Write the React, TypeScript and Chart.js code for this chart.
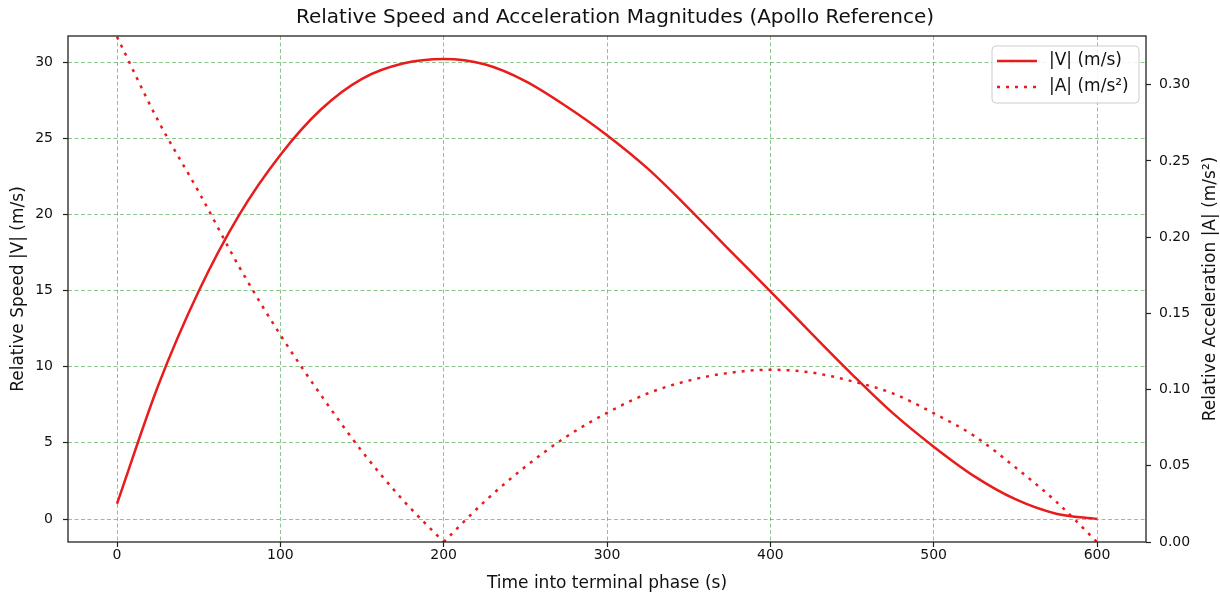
import React, { useEffect, useRef } from "react";
import { Chart, registerables } from "chart.js";

Chart.register(...registerables);

const FONT = "'DejaVu Sans', 'Liberation Sans', sans-serif";

const TITLE = "Relative Speed and Acceleration Magnitudes (Apollo Reference)";
const X_LABEL = "Time into terminal phase (s)";
const Y_LABEL = "Relative Speed |V| (m/s)";
const Y1_LABEL = "Relative Acceleration |A| (m/s²)";
const LEGEND_LABELS = ["|V| (m/s)", "|A| (m/s²)"];

// time samples (s)
const times = [0, 25, 50, 75, 100, 125, 150, 175, 200, 225, 250, 275, 300, 325, 350, 375, 400, 425, 450, 475, 500, 525, 550, 575, 600];
// |V| (m/s)
const speed = [1.0, 8.7, 14.95, 20.0, 23.9, 26.9, 28.9, 29.9, 30.2, 29.85, 28.75, 27.1, 25.2, 23.0, 20.4, 17.65, 14.95, 12.2, 9.5, 6.95, 4.75, 2.8, 1.3, 0.35, 0.0];
// |A| (m/s^2)
const accel = [0.3315, 0.2768, 0.2298, 0.1802, 0.1359, 0.0962, 0.0595, 0.0276, 0.0, 0.0265, 0.0494, 0.069, 0.0847, 0.0975, 0.1059, 0.111, 0.113, 0.1112, 0.1055, 0.0975, 0.0845, 0.0695, 0.049, 0.0265, 0.0];

const xTicks = [0, 100, 200, 300, 400, 500, 600];
const yTicks = [0, 5, 10, 15, 20, 25, 30];
const y1Ticks = [0, 0.05, 0.1, 0.15, 0.2, 0.25, 0.3];

const LINE_COLOR = "rgb(232,28,28)";
const GRID_COLOR = "rgba(0,128,0,0.45)";
const DOT_DASH = [3, 6];

export default function App() {
  const ref = useRef<HTMLCanvasElement | null>(null);

  useEffect(() => {
    if (!ref.current) return;
    const splitIdx = accel.indexOf(Math.min(...accel.slice(1, 12)));
    const pts = (ys: number[]) => times.map((t, i) => ({ x: t, y: ys[i] }));
    const accelPts = pts(accel);

    const decor = {
      id: "decor",
      afterDraw(chart: any) {
        const { ctx, chartArea: a } = chart;
        const cx = (a.left + a.right) / 2;
        const cy = (a.top + a.bottom) / 2;
        ctx.save();
        ctx.strokeStyle = "#222";
        ctx.lineWidth = 1.3;
        ctx.strokeRect(a.left, a.top, a.right - a.left, a.bottom - a.top);

        ctx.fillStyle = "#111";
        ctx.textAlign = "center";
        ctx.textBaseline = "middle";
        ctx.font = `20px ${FONT}`;
        ctx.fillText(TITLE, cx + 8, 18);
        ctx.font = `17px ${FONT}`;
        ctx.fillText(X_LABEL, cx, 584);
        ctx.save();
        ctx.translate(19, cy);
        ctx.rotate(-Math.PI / 2);
        ctx.fillText(Y_LABEL, 0, 0);
        ctx.restore();
        ctx.save();
        ctx.translate(1211, cy);
        ctx.rotate(-Math.PI / 2);
        ctx.fillText(Y1_LABEL, 0, 0);
        ctx.restore();

        // legend
        const lx = 992, ly = 46, lw = 147, lh = 57, r = 4;
        ctx.beginPath();
        ctx.moveTo(lx + r, ly);
        ctx.arcTo(lx + lw, ly, lx + lw, ly + lh, r);
        ctx.arcTo(lx + lw, ly + lh, lx, ly + lh, r);
        ctx.arcTo(lx, ly + lh, lx, ly, r);
        ctx.arcTo(lx, ly, lx + lw, ly, r);
        ctx.closePath();
        ctx.fillStyle = "rgba(255,255,255,0.85)";
        ctx.fill();
        ctx.strokeStyle = "rgba(200,200,200,0.9)";
        ctx.lineWidth = 1;
        ctx.stroke();

        ctx.strokeStyle = LINE_COLOR;
        ctx.lineWidth = 2.5;
        ctx.beginPath();
        ctx.moveTo(997, 61);
        ctx.lineTo(1037, 61);
        ctx.stroke();
        ctx.setLineDash(DOT_DASH);
        ctx.beginPath();
        ctx.moveTo(997, 87);
        ctx.lineTo(1037, 87);
        ctx.stroke();
        ctx.setLineDash([]);

        ctx.fillStyle = "#111";
        ctx.textAlign = "left";
        ctx.font = `17px ${FONT}`;
        ctx.fillText(LEGEND_LABELS[0], 1049, 61);
        ctx.fillText(LEGEND_LABELS[1], 1049, 87);
        ctx.restore();
      },
    };

    const tickFont = { family: FONT, size: 14 };

    const chart = new Chart(ref.current, {
      type: "line",
      data: {
        datasets: [
          {
            label: LEGEND_LABELS[0],
            data: pts(speed),
            borderColor: LINE_COLOR,
            borderWidth: 2.5,
            pointRadius: 0,
            fill: false,
            cubicInterpolationMode: "monotone",
            yAxisID: "y",
          },
          {
            label: LEGEND_LABELS[1],
            data: accelPts.slice(0, splitIdx + 1),
            borderColor: LINE_COLOR,
            borderWidth: 2.5,
            borderDash: DOT_DASH,
            pointRadius: 0,
            fill: false,
            cubicInterpolationMode: "monotone",
            yAxisID: "y1",
          },
          {
            label: LEGEND_LABELS[1] + " ",
            data: accelPts.slice(splitIdx),
            borderColor: LINE_COLOR,
            borderWidth: 2.5,
            borderDash: DOT_DASH,
            pointRadius: 0,
            fill: false,
            cubicInterpolationMode: "monotone",
            yAxisID: "y1",
          },
        ],
      },
      options: {
        animation: false,
        responsive: false,
        devicePixelRatio: 1,
        layout: { padding: { top: 36, left: 0, right: 0, bottom: 0 } },
        plugins: { legend: { display: false }, title: { display: false }, tooltip: { enabled: false } },
        scales: {
          x: {
            type: "linear",
            min: -30,
            max: 630,
            afterBuildTicks: (s: any) => { s.ticks = xTicks.map((v) => ({ value: v })); },
            afterFit: (s: any) => { s.height = 53; },
            grid: { color: GRID_COLOR, lineWidth: 1, tickLength: 5, tickColor: "#222", tickWidth: 1.2, tickBorderDash: [] },
            border: { display: false, dash: [4, 2.5] },
            ticks: { color: "#111", font: tickFont, padding: 0, maxRotation: 0, autoSkip: false, callback: (v: any) => String(v) },
          },
          y: {
            type: "linear",
            position: "left",
            min: -1.51,
            max: 31.71,
            afterBuildTicks: (s: any) => { s.ticks = yTicks.map((v) => ({ value: v })); },
            afterFit: (s: any) => { s.width = 68; },
            grid: { color: GRID_COLOR, lineWidth: 1, tickLength: 5, tickColor: "#222", tickWidth: 1.2, tickBorderDash: [] },
            border: { display: false, dash: [4, 2.5] },
            ticks: { color: "#111", font: tickFont, padding: 10, autoSkip: false, callback: (v: any) => String(v) },
          },
          y1: {
            type: "linear",
            position: "right",
            min: 0,
            max: 0.332,
            afterBuildTicks: (s: any) => { s.ticks = y1Ticks.map((v) => ({ value: v })); },
            afterFit: (s: any) => { s.width = 74; },
            grid: { drawOnChartArea: false, tickLength: 5, tickColor: "#222", tickWidth: 1.2, tickBorderDash: [] },
            border: { display: false },
            ticks: { color: "#111", font: tickFont, padding: 8, autoSkip: false, callback: (v: any) => Number(v).toFixed(2) },
          },
        },
      },
      plugins: [decor],
    });

    return () => chart.destroy();
  }, []);

  return (
    <div style={{ position: "fixed", left: 0, top: 0, width: 1220, height: 595, background: "#fff" }}>
      <canvas ref={ref} width={1220} height={595} style={{ display: "block" }} />
    </div>
  );
}
